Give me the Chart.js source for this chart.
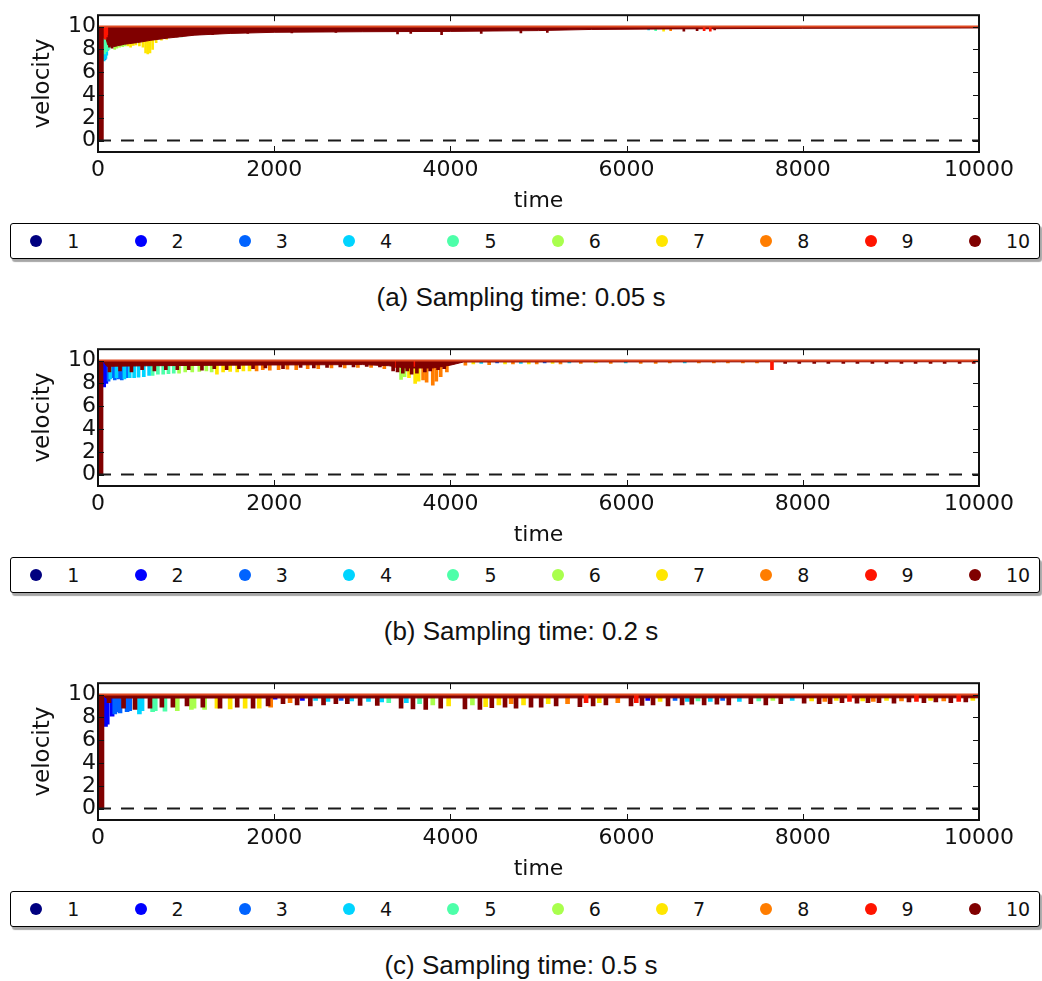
<!DOCTYPE html>
<html>
<head>
<meta charset="utf-8">
<script src="https://cdn.jsdelivr.net/npm/chart.js@4.4.1/dist/chart.umd.min.js"></script>
<style>
  html, body { margin: 0; padding: 0; background: #fff; }
  body { width: 1042px; height: 981px; position: relative; overflow: hidden; }
  .panel { position: absolute; left: 0; width: 1042px; height: 330px; }
  .panel canvas { position: absolute; left: 0; top: 0; }
  .legend { position: absolute; left: 10px; top: 223px; width: 1028px; height: 34px;
            border: 1.5px solid #000; border-radius: 3px; background: #fff;
            box-shadow: 2px 3px 1px rgba(0,0,0,0.35);
            font-family: 'DejaVu Sans'; font-size: 19px; color: #111; }
  .item { position: absolute; top: 0; height: 34px; }
  .dot { position: absolute; top: 11px; left: 0; width: 12px; height: 12px; border-radius: 50%; }
  .lab { position: absolute; left: 37px; top: 6px; line-height: 22px; white-space: nowrap; }
  .caption { position: absolute; left: 0; width: 1042px; top: 282px; text-align: center;
             font-family: 'Liberation Sans'; font-size: 26px; line-height: 30px; color: #111; }
</style>
</head>
<body>
<div id="fig"></div>
<script>
// series / axes
const seriesNames = ['1', '2', '3', '4', '5', '6', '7', '8', '9', '10'];
const seriesColors = ['#000080', '#0000ff', '#0063ff', '#00d4ff', '#4dffa9',
                      '#a9ff4d', '#ffe600', '#ff7d00', '#ff1400', '#800000'];
const xTicks = [0, 2000, 4000, 6000, 8000, 10000];
const yTicks = [0, 2, 4, 6, 8, 10];
const tRange = [0, 10000];
const vRange = [-1, 11];
const vTop = 10;
const xTitle = 'time';
const yTitle = 'velocity';
const captions = ['(a) Sampling time: 0.05 s', '(b) Sampling time: 0.2 s', '(c) Sampling time: 0.5 s'];

// lower edge of the dense band under v = 10   [time, velocity]
const envA = [[55,10],[110,8.4],[180,8.25],[300,8.45],[450,8.6],[600,8.8],[800,9.0],[1100,9.25],
  [1500,9.4],[2000,9.5],[3000,9.55],[4000,9.58],[5000,9.65],[5600,9.75],[6500,9.8],[8000,9.85],[10000,9.88]];
const envB = [[55,10],[100,9.5],[600,9.55],[1500,9.6],[3000,9.65],[3300,9.55],[3500,9.35],[3800,9.35],
  [4000,9.6],[4150,9.88],[10000,9.9]];
const envC = [[55,10],[90,9.7],[10000,9.72]];

// dips below v = 10   [time, series, lowest velocity]
const dipsA = [
  [15,10,0],[35,10,0],[50,10,0],
  [65,9,9.0],[80,9,8.9],[95,9,9.1],[110,9,9.3],
  [70,4,7.0],[80,3,7.1],[90,4,7.2],[100,4,7.5],[112,4,7.9],
  [75,5,7.6],[95,5,7.8],[105,5,8.2],[125,5,8.0],[140,5,8.2],[165,5,8.4],
  [190,6,8.0],[215,6,8.1],[245,6,8.2],[280,6,8.25],[310,6,8.3],
  [340,7,8.3],[370,7,8.2],[400,7,8.35],[430,7,8.4],[470,7,8.3],[510,7,8.2],[540,7,7.7],[565,7,7.6],
  [590,7,7.7],[620,7,8.0],[660,7,8.6],[720,7,8.8],[780,7,8.9],
  [760,5,9.0],[850,6,9.05],[950,5,9.1],[1050,6,9.2],[1200,4,9.3],
  [130,10,8.2],[160,10,8.1],[200,10,8.3],[260,10,8.4],[330,10,8.5],[420,10,8.6],[520,10,8.8],[640,10,8.85],
  [900,10,9.1],[1300,10,9.3],[1700,10,9.4],[2200,10,9.45],[2700,10,9.5],[3400,10,9.35],[3550,10,9.4],
  [3900,10,9.3],[4350,10,9.4],[4800,10,9.45],[5100,10,9.5],[6650,10,9.6],[6800,10,9.65],[7000,10,9.7],
  [6250,4,9.7],[6330,5,9.65],[6420,7,9.6],[6500,8,9.65],[6880,9,9.65],[6950,9,9.6]
];
const dipsB = [
  [15,10,0],[40,10,0],
  [70,2,7.7],[95,2,8.0],
  [120,3,8.2],[150,3,8.5],[190,3,8.3],[230,3,8.4],[270,3,8.3],[320,3,8.5],
  [140,4,8.4],[210,4,8.5],[300,4,8.4],[360,4,8.5],[410,4,8.5],[460,4,8.55],[520,4,8.6],[580,4,8.7],
  [620,5,8.7],[680,5,8.8],[740,5,8.8],[800,5,8.85],[860,5,8.9],
  [920,6,8.9],[990,6,9.0],[1070,6,9.0],[1150,6,9.05],[1230,6,9.1],[1290,6,9.0],
  [1350,7,8.8],[1420,7,9.0],[1500,7,9.05],[1580,7,9.0],[1650,7,9.1],[1720,7,9.1],
  [1800,8,9.1],[1870,8,9.2],[1950,8,9.15],[2050,8,9.2],[2150,8,9.25],[2250,8,9.2],[2380,8,9.3],
  [2500,8,9.3],[2650,8,9.35],[2800,8,9.35],[2950,8,9.4],[3100,8,9.4],[3250,8,9.3],
  [3440,6,8.35],[3480,6,8.6],[3530,7,8.5],[3600,7,8.0],[3640,7,8.2],[3690,8,8.3],[3730,8,8.1],
  [3800,8,7.85],[3840,8,8.2],[3890,8,8.6],[3960,8,9.0],
  [3350,10,9.1],[3400,10,9.0],[3460,10,8.9],[3510,10,9.1],[3560,10,8.8],[3620,10,8.9],[3710,10,9.0],
  [3770,10,9.1],[3860,10,9.2],[3930,10,9.3],
  [130,10,9.0],[250,10,9.1],[380,10,9.0],[500,10,9.2],[640,10,9.1],[770,10,9.2],[900,10,9.2],
  [1030,10,9.2],[1180,10,9.15],[1320,10,9.3],[1460,10,9.2],[1600,10,9.3],[1760,10,9.3],[1900,10,9.35],
  [2100,10,9.3],[2300,10,9.4],[2450,10,9.35],[2600,10,9.4],[2750,10,9.45],[2900,10,9.45],[3050,10,9.5],
  [3200,10,9.45],
  [3380,9,9.4],[3600,9,9.5],
  [4170,8,9.6],[4260,7,9.7],[4350,4,9.75],[4440,8,9.65],[4530,3,9.8],[4620,7,9.7],[4710,8,9.7],
  [4800,4,9.75],[4890,7,9.7],[4980,8,9.7],[5070,3,9.8],[5160,7,9.75],[5250,8,9.7],[5350,4,9.8],
  [5480,8,9.75],[5650,7,9.8],[5820,8,9.75],[5990,4,9.8],[6160,8,9.75],[6330,8,9.75],[6490,8,9.8],
  [6660,4,9.8],[6820,8,9.8],[6990,8,9.8],[7150,8,9.8],[7320,8,9.8],[7480,8,9.8],
  [7650,9,9.2],
  [7800,10,9.75],[7960,10,9.75],[8130,10,9.75],[8290,10,9.75],[8460,10,9.75],[8620,10,9.75],
  [8790,10,9.75],[8950,10,9.75],[9120,10,9.75],[9280,10,9.75],[9450,10,9.75],[9610,10,9.75],
  [9780,10,9.75],[9940,10,9.75]
];
const dipsC = [
  [15,10,0],[45,10,0],
  [85,2,7.2],[105,2,7.4],[160,2,8.1],
  [190,3,8.3],[215,3,8.5],[250,3,8.4],[330,3,8.5],[360,3,8.6],
  [470,4,8.3],[500,4,8.6],
  [620,5,8.5],[650,5,8.6],[760,5,8.55],
  [900,6,8.6],[1060,6,8.7],[1090,6,8.8],[1210,6,8.7],
  [1350,7,8.8],[1500,7,8.75],[1670,7,8.8],[1830,7,8.8],
  [1960,8,8.9],
  [125,10,9.3],[290,10,8.8],[420,10,8.7],[590,10,8.8],[725,10,8.9],[850,10,8.9],[1010,10,9.0],
  [1190,10,8.9],[1385,10,8.8],[1580,10,8.9],[1760,10,8.8],[1930,10,9.0],[2100,10,9.2],[2260,10,9.1],
  [2410,10,9.0],[2560,10,9.1],[2700,10,9.2],[2830,10,9.2],[2975,10,9.05],[3170,10,9.05],
  [3440,10,8.8],[3575,10,8.75],[3720,10,8.7],[3890,10,8.8],[4165,10,8.75],[4335,10,8.7],[4470,10,8.85],
  [4620,10,8.9],[4745,10,8.8],[4915,10,8.9],[5030,10,8.9],[5200,10,9.0],[5470,10,8.95],[5620,10,9.0],
  [5765,10,9.1],[6050,10,9.0],[6175,10,9.05],[6300,10,9.1],[6470,10,9.0],[6630,10,9.1],[6740,10,9.15],
  [6880,10,9.1],[7025,10,9.15],[7160,10,9.1],[7410,10,9.2],[7580,10,9.1],[7750,10,9.2],[8015,10,9.25],
  [8185,10,9.2],[8310,10,9.2],[8445,10,9.3],[8615,10,9.25],[8740,10,9.3],[8865,10,9.3],[9035,10,9.25],
  [9205,10,9.35],[9375,10,9.3],[9510,10,9.35],[9680,10,9.3],[9850,10,9.35],
  [2010,2,9.6],[2180,8,9.3],[2320,2,9.5],[2470,4,9.5],[2610,4,9.4],[2760,3,9.5],[2880,4,9.45],
  [3070,4,9.4],[3220,4,9.35],[3300,5,9.3],
  [3500,4,9.3],[3650,5,9.2],[3800,6,9.1],[3980,7,9.0],[4250,6,9.1],[4400,7,8.95],[4550,7,9.1],
  [4690,8,9.2],[4830,7,9.1],[5110,7,9.2],[5330,8,9.2],[5540,9,9.3],[5690,7,9.3],[5900,8,9.3],
  [6110,9,9.3],[6240,2,9.5],[6380,7,9.4],[6550,3,9.5],[6690,4,9.4],[6810,5,9.45],[6950,4,9.4],
  [7090,3,9.5],[7280,4,9.4],[7500,5,9.45],[7660,6,9.5],[7880,4,9.5],[8100,7,9.45],[8250,8,9.4],
  [8380,7,9.5],[8530,9,9.4],[8680,7,9.45],[8800,8,9.4],[8950,7,9.5],[9120,8,9.45],[9290,9,9.4],
  [9450,7,9.5],[9600,8,9.45],[9770,9,9.4],[9930,7,9.5]
];

Chart.defaults.font.family = 'DejaVu Sans';
Chart.defaults.color = '#111';

// matplotlib-like box with inward ticks on all sides
const framePlugin = {
  id: 'frame',
  afterDatasetsDraw(chart) {
    const { ctx, chartArea: a, scales: { x, y } } = chart;
    ctx.save();
    ctx.strokeStyle = '#111';
    ctx.lineWidth = 1;
    ctx.beginPath();
    xTicks.forEach(t => {
      const px = Math.round(x.getPixelForValue(t)) + 0.5;
      ctx.moveTo(px, a.bottom); ctx.lineTo(px, a.bottom - 6);
      ctx.moveTo(px, a.top); ctx.lineTo(px, a.top + 6);
    });
    yTicks.forEach(v => {
      const py = Math.round(y.getPixelForValue(v)) + 0.5;
      ctx.moveTo(a.left, py); ctx.lineTo(a.left + 6, py);
      ctx.moveTo(a.right, py); ctx.lineTo(a.right - 6, py);
    });
    ctx.stroke();
    ctx.lineWidth = 2;
    ctx.strokeRect(a.left, a.top, a.right - a.left, a.bottom - a.top);
    ctx.restore();
  }
};

function makeChart(canvas, env, dips, barW) {
  const datasets = [];
  datasets.push({
    type: 'line', data: [{ x: tRange[0], y: 0 }, { x: tRange[1], y: 0 }],
    borderColor: '#1a1a1a', borderWidth: 2, borderDash: [13, 10], pointRadius: 0, order: 0
  });
  datasets.push({
    type: 'line', data: [{ x: tRange[0], y: vTop }, { x: tRange[1], y: vTop }],
    borderColor: '#e04a22', borderWidth: 2, pointRadius: 0, order: 1
  });
  datasets.push({
    type: 'line', data: env.map(p => ({ x: p[0], y: p[1] })),
    borderColor: '#800000', backgroundColor: '#800000', borderWidth: 1,
    fill: { value: vTop }, pointRadius: 0, tension: 0, order: 4
  });
  seriesNames.forEach((name, i) => {
    datasets.push({
      type: 'bar', label: name,
      data: dips.filter(d => d[1] === i + 1).map(d => ({ x: d[0], y: [d[2], vTop] })),
      backgroundColor: seriesColors[i], borderWidth: 0, barThickness: barW, grouped: false,
      order: i >= 8 ? 11 - i : 12 - i
    });
  });

  return new Chart(canvas, {
    type: 'bar',
    data: { datasets: datasets },
    options: {
      responsive: false,
      animation: false,
      layout: { padding: { top: 10, right: 63, left: 0, bottom: 0 } },
      plugins: { legend: { display: false }, tooltip: { enabled: false } },
      scales: {
        x: {
          type: 'linear', min: tRange[0], max: tRange[1], offset: false,
          grid: { display: false, drawTicks: false }, border: { display: false },
          afterBuildTicks: s => { s.ticks = xTicks.map(v => ({ value: v })); },
          afterFit: s => { s.height = 63; },
          ticks: { autoSkip: false, maxRotation: 0, padding: 5, color: '#111',
                   font: { size: 22 }, callback: v => String(v) },
          title: { display: true, text: xTitle, color: '#111', font: { size: 22 },
                   padding: { top: 0, bottom: 1 } }
        },
        y: {
          type: 'linear', min: vRange[0], max: vRange[1],
          grid: { display: false, drawTicks: false }, border: { display: false },
          afterBuildTicks: s => { s.ticks = yTicks.map(v => ({ value: v })); },
          afterFit: s => { s.width = 98; },
          ticks: { autoSkip: false, padding: 2, color: '#111', font: { size: 22 }, callback: v => String(v) },
          title: { display: true, text: yTitle, color: '#111', font: { size: 23 },
                   padding: { top: 29, bottom: 0 } }
        }
      }
    },
    plugins: [framePlugin]
  });
}

const fig = document.getElementById('fig');
const panelTops = [0, 334, 668];
const panelData = [[envA, dipsA, 2], [envB, dipsB, 3], [envC, dipsC, 4]];

panelData.forEach((p, k) => {
  const panel = document.createElement('div');
  panel.className = 'panel';
  panel.style.top = panelTops[k] + 'px';
  fig.appendChild(panel);

  const cv = document.createElement('canvas');
  cv.width = 1042; cv.height = 215;
  panel.appendChild(cv);
  makeChart(cv, p[0], p[1], p[2]);

  const leg = document.createElement('div');
  leg.className = 'legend';
  seriesNames.forEach((name, i) => {
    const it = document.createElement('div');
    it.className = 'item';
    it.style.left = (19.2 + 104.3 * i) + 'px';
    it.innerHTML = '<div class="dot" style="background:' + seriesColors[i] + '"></div><div class="lab">' + name + '</div>';
    leg.appendChild(it);
  });
  panel.appendChild(leg);

  const cap = document.createElement('div');
  cap.className = 'caption';
  cap.textContent = captions[k];
  panel.appendChild(cap);
});
</script>
</body>
</html>
